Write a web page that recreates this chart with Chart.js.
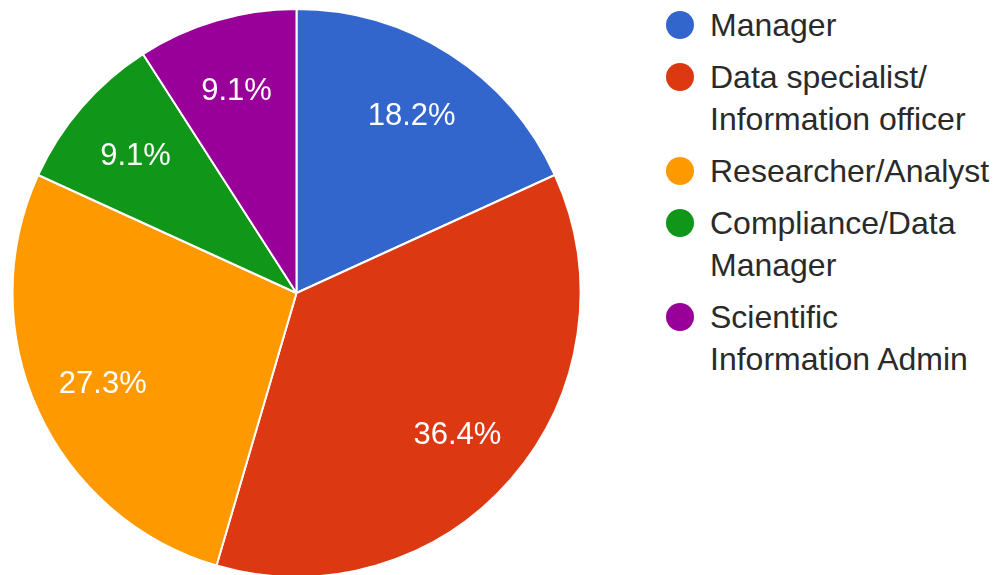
<!DOCTYPE html>
<html>
<head>
<meta charset="utf-8">
<script src="https://cdn.jsdelivr.net/npm/chart.js@4/dist/chart.umd.min.js"></script>
<style>
    html, body { margin: 0; padding: 0; background: #fff; overflow: hidden; }
    body { width: 999px; height: 575px; position: relative; }
    #pieWrap { position: absolute; left: 0; top: 0; width: 600px; height: 600px; }
    #legend { position: absolute; left: 666px; top: 4px; margin: 0; padding: 0; list-style: none;
              font-family: "Liberation Sans", Arial, sans-serif; font-size: 32px; color: #2a2a2a; }
    #legend li { position: relative; padding-left: 44px; line-height: 42px; margin-bottom: 10px; white-space: nowrap; }
    #legend .dot { position: absolute; left: 0; top: 7px; width: 28px; height: 28px; border-radius: 50%; }
</style>
</head>
<body>
<div id="pieWrap"><canvas id="roleChart"></canvas></div>
<ul id="legend"></ul>
<script>
// Roles of respondents
const roleLabels = [
    ['Manager'],
    ['Data specialist/', 'Information officer'],
    ['Researcher/Analyst'],
    ['Compliance/Data', 'Manager'],
    ['Scientific', 'Information Admin']
];
const roleCounts = [2, 4, 3, 1, 1];
const roleColors = ['#3366cc', '#dc3912', '#ff9900', '#109618', '#990099'];

// percentage labels inside the slices
const sliceLabels = {
    id: 'sliceLabels',
    afterDatasetsDraw(chart) {
        const ctx = chart.ctx;
        const meta = chart.getDatasetMeta(0);
        const total = roleCounts.reduce((a, b) => a + b, 0);
        ctx.save();
        ctx.font = '31px "Liberation Sans", Arial, sans-serif';
        ctx.fillStyle = '#ffffff';
        ctx.textAlign = 'center';
        ctx.textBaseline = 'middle';
        meta.data.forEach((arc, i) => {
            const p = arc.getProps(['x', 'y', 'startAngle', 'endAngle', 'outerRadius']);
            const mid = (p.startAngle + p.endAngle) / 2;
            const r = p.outerRadius * 0.75;
            const pct = (roleCounts[i] / total * 100).toFixed(1) + '%';
            ctx.fillText(pct, p.x + Math.cos(mid) * r, p.y + Math.sin(mid) * r + 3);
        });
        ctx.restore();
    }
};

const roleChart = new Chart(document.getElementById('roleChart'), {
    type: 'pie',
    data: {
        labels: roleLabels.map(l => l.join(' ')),
        datasets: [{
            data: roleCounts,
            backgroundColor: roleColors,
            borderColor: '#ffffff',
            borderWidth: 2,
            hoverOffset: 0
        }]
    },
    options: {
        responsive: true,
        maintainAspectRatio: false,
        animation: false,
        layout: {
            padding: { left: 11, right: 18, top: 8, bottom: 22 }
        },
        plugins: {
            legend: { display: false },
            tooltip: { enabled: false }
        }
    },
    plugins: [sliceLabels]
});

// html legend built from the same arrays
const legendEl = document.getElementById('legend');
roleLabels.forEach((lines, i) => {
    const li = document.createElement('li');
    const dot = document.createElement('span');
    dot.className = 'dot';
    dot.style.background = roleColors[i];
    li.appendChild(dot);
    lines.forEach((t, j) => {
        if (j > 0) li.appendChild(document.createElement('br'));
        li.appendChild(document.createTextNode(t));
    });
    legendEl.appendChild(li);
});
</script>
</body>
</html>
